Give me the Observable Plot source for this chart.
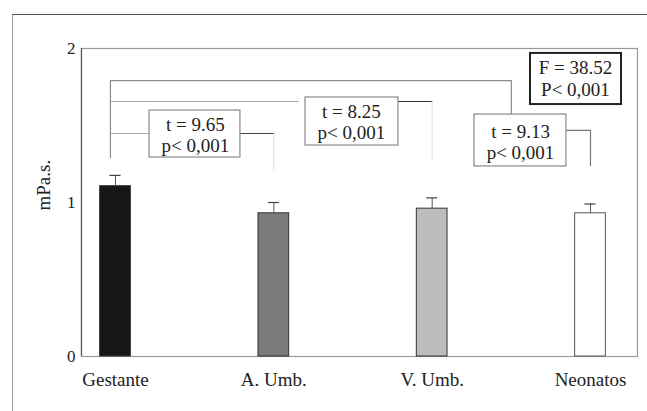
<!DOCTYPE html>
<html>
<head>
<meta charset="utf-8">
<script src="https://cdn.jsdelivr.net/npm/d3@7"></script>
<script src="https://cdn.jsdelivr.net/npm/@observablehq/plot@0.6"></script>
<style>
  html, body { margin: 0; padding: 0; background: #fff; }
  #wrap { position: relative; width: 647px; height: 411px; overflow: hidden; }
  #outer { position: absolute; left: 12px; top: 14px; width: 640px; height: 400px;
           border-top: 1.5px solid #555; border-left: 1.5px solid #999; pointer-events: none; }
  svg, svg text, svg tspan { font-family: "Liberation Serif", "Times New Roman", Times, serif !important; }
</style>
</head>
<body>
<div id="wrap"><div id="outer"></div></div>
<script>
// ---- data ----
const categories = ["Gestante", "A. Umb.", "V. Umb.", "Neonatos"];
const means = [1.106, 0.93, 0.96, 0.93];
const sds = [0.07, 0.07, 0.07, 0.06];
const yTicks = [0, 1, 2];
const yLabel = "mPa.s.";
const testLabels = ["t = 9.65\np< 0,001", "t = 8.25\np< 0,001", "t = 9.13\np< 0,001"];
const anovaLabel = "F = 38.52\nP< 0,001";

const barFills = ["#161616", "#7b7b7b", "#bcbcbc", "#ffffff"];
const data = categories.map((c, i) => ({i, c, mean: means[i], sd: sds[i], fill: barFills[i]}));
const hw = 0.097;   // half bar width (x units)
const cap = 0.035;  // half cap width

const font = 19;
const ff = "Times New Roman";

const plot = Plot.plot({
  width: 647,
  height: 411,
  marginLeft: 81,
  marginRight: 10,
  marginTop: 48,
  marginBottom: 55,
  style: {fontFamily: "'Liberation Serif', 'Times New Roman', serif", color: "#222", background: "transparent"},
  x: {type: "linear", domain: [0, 3], range: [115, 590]},
  y: {domain: [0, 2]},
  marks: [
    Plot.frame({stroke: "#9a9a9a", strokeWidth: 1.2}),
    Plot.ruleX([0], {x: () => -0.215, y1: 0, y2: 2, stroke: "#555", strokeWidth: 1.2}),
    // bars
    Plot.rectY(data, {x1: d => d.i - hw, x2: d => d.i + hw, y1: 0, y2: "mean",
      fill: "fill", stroke: d => d.i === 3 ? "#555" : "#333", strokeWidth: 1}),
    // error bars
    Plot.ruleX(data, {x: "i", y1: "mean", y2: d => d.mean + d.sd, stroke: "#555", strokeWidth: 1}),
    Plot.ruleY(data, {y: d => d.mean + d.sd, x1: d => d.i - cap, x2: d => d.i + cap, stroke: "#444", strokeWidth: 1.2}),
    // Gestante vs Neonatos bracket
    Plot.line([[-0.032, 1.292], [-0.032, 1.792], [2.5, 1.792], [2.5, 1.571]], {stroke: "#8a8a8a", strokeWidth: 1.2}),
    Plot.line([[2.848, 1.468], [3.0, 1.468], [3.0, 1.240]], {stroke: "#777", strokeWidth: 1.2}),
    // Gestante vs V. Umb.
    Plot.line([[-0.032, 1.656], [1.156, 1.656]], {stroke: "#aaa", strokeWidth: 1.2}),
    Plot.line([[1.787, 1.656], [2.0, 1.656]], {stroke: "#333", strokeWidth: 1.2}),
    Plot.line([[2.0, 1.656], [2.0, 1.286]], {stroke: "#e2e2e2", strokeWidth: 1}),
    // Gestante vs A. Umb.
    Plot.line([[-0.032, 1.448], [0.215, 1.448]], {stroke: "#aaa", strokeWidth: 1.2}),
    Plot.line([[0.789, 1.448], [1.0, 1.448]], {stroke: "#444", strokeWidth: 1.2}),
    Plot.line([[1.0, 1.448], [1.0, 1.208]], {stroke: "#ddd", strokeWidth: 1}),
    // test boxes
    Plot.rect([
      {x1: 0.215, x2: 0.789, y1: 1.292, y2: 1.597},
      {x1: 1.2, x2: 1.787, y1: 1.370, y2: 1.682},
      {x1: 2.267, x2: 2.848, y1: 1.234, y2: 1.571}
    ], {x1: "x1", x2: "x2", y1: "y1", y2: "y2", fill: "white", stroke: "#8a8a8a", strokeWidth: 1.2}),
    Plot.rect([{x1: 2.621, x2: 3.196, y1: 1.636, y2: 1.968}],
      {x1: "x1", x2: "x2", y1: "y1", y2: "y2", fill: "white", stroke: "#222", strokeWidth: 2}),
    Plot.text([
      {x: 0.505, y: 1.442, t: testLabels[0]},
      {x: 1.49, y: 1.526, t: testLabels[1]},
      {x: 2.558, y: 1.396, t: testLabels[2]},
      {x: 2.905, y: 1.808, t: anovaLabel}
    ], {x: "x", y: "y", text: "t", fontSize: font, fontFamily: ff, lineHeight: 1.15, fill: "#222", lineAnchor: "middle"}),
    // axes
    Plot.axisY({ticks: yTicks, tickFormat: d3.format("d"), tickSize: 0, tickPadding: 6, fontSize: 17, fontFamily: ff, label: null}),
    Plot.axisX({ticks: [0, 1, 2, 3], tickFormat: i => categories[i], tickSize: 0, tickPadding: 16, fontSize: font, fontFamily: ff, label: null}),
    Plot.text([yLabel], {frameAnchor: "left", y: 0.948, dx: -38, rotate: -90, fontSize: font, fontFamily: ff, fill: "#222"})
  ]
});
document.getElementById("wrap").prepend(plot);
</script>
</body>
</html>
